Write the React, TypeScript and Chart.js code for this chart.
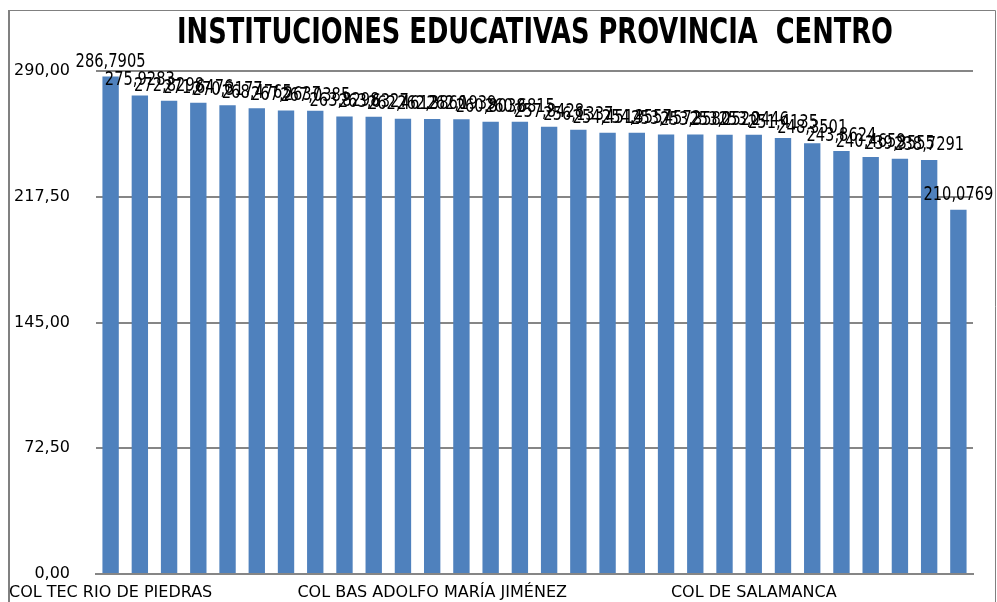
import React, { useEffect, useRef } from "react";
import { Chart, registerables } from "chart.js";

Chart.register(...registerables);

const chartTitle = "INSTITUCIONES EDUCATIVAS PROVINCIA  CENTRO";

const categories = [
  "COL TEC RIO DE PIEDRAS", "IE 02", "IE 03", "IE 04", "IE 05", "IE 06", "IE 07", "IE 08", "IE 09", "IE 10",
  "IE 11", "COL BAS ADOLFO MARÍA JIMÉNEZ", "IE 13", "IE 14", "IE 15", "IE 16", "IE 17", "IE 18", "IE 19", "IE 20",
  "IE 21", "IE 22", "COL DE SALAMANCA", "IE 24", "IE 25", "IE 26", "IE 27", "IE 28", "IE 29", "IE 30",
];

const values = [
  286.7905, 275.9283, 272.8298, 271.6476, 270.3177, 268.4765, 267.2637, 267.0385, 263.8298, 263.6327,
  262.4612, 262.386, 262.1939, 260.8038, 260.6815, 257.8428, 256.1337, 254.4514, 254.3557, 253.4572,
  253.358, 253.252, 253.2446, 251.4135, 248.3501, 243.8624, 240.4659, 239.3555, 238.7291, 210.0769,
];

const yTickValues = [0, 72.5, 145, 217.5, 290];
const shownTickIndices = [0, 11, 22];

const fmt = (v: number, d: number) => v.toFixed(d).replace(".", ",");

export default function App() {
  const ref = useRef<HTMLCanvasElement>(null);

  useEffect(() => {
    const canvas = ref.current!;
    const W = 997;
    const H = 602;

    const framePlugin = {
      id: "frame",
      beforeDraw(chart: any) {
        const ctx = chart.ctx;
        ctx.save();
        ctx.fillStyle = "#ffffff";
        ctx.fillRect(0, 0, W, H);
        ctx.strokeStyle = "#808080";
        ctx.lineWidth = 2;
        ctx.beginPath();
        ctx.moveTo(9, 10);
        ctx.lineTo(9, H);
        ctx.stroke();
        ctx.lineWidth = 1;
        ctx.beginPath();
        ctx.moveTo(8, 10.5);
        ctx.lineTo(995.5, 10.5);
        ctx.lineTo(995.5, H);
        ctx.stroke();
        ctx.fillStyle = "#000000";
        ctx.font = "bold 36px 'DejaVu Sans Condensed', 'DejaVu Sans', sans-serif";
        ctx.textAlign = "center";
        ctx.textBaseline = "alphabetic";
        ctx.fillText(chartTitle, 535, 43, 716);
        ctx.restore();
      },
    };

    const labelPlugin = {
      id: "barLabels",
      afterDatasetsDraw(chart: any) {
        const ctx = chart.ctx;
        const meta = chart.getDatasetMeta(0);
        ctx.save();
        ctx.fillStyle = "#000000";
        ctx.font = "20px 'DejaVu Sans Condensed', 'DejaVu Sans', sans-serif";
        ctx.textAlign = "center";
        ctx.textBaseline = "alphabetic";
        meta.data.forEach((bar: any, i: number) => {
          ctx.fillText(fmt(values[i], 4), bar.x, bar.y - 10, 70);
        });
        ctx.restore();
      },
    };

    const chart = new Chart(canvas, {
      type: "bar",
      data: {
        labels: categories,
        datasets: [
          {
            data: values,
            backgroundColor: "#4F81BD",
            borderWidth: 0,
            categoryPercentage: 1,
            barPercentage: 0.56,
          },
        ],
      },
      options: {
        responsive: false,
        maintainAspectRatio: false,
        animation: false,
        devicePixelRatio: 1,
        layout: { padding: { top: 71, right: 24, left: 0, bottom: 0 } },
        plugins: {
          legend: { display: false },
          title: { display: false },
          tooltip: { enabled: false },
        },
        scales: {
          x: {
            grid: { display: false, drawTicks: false },
            border: { display: true, color: "#868686", width: 2 },
            ticks: {
              autoSkip: false,
              maxRotation: 0,
              minRotation: 0,
              padding: 9,
              color: "#000000",
              font: { family: "'DejaVu Sans', sans-serif", size: 16 },
              callback: (_v: any, i: number) => (shownTickIndices.includes(i) ? categories[i] : ""),
            },
            afterFit: (s: any) => {
              s.height = 28;
              s.paddingLeft = 0;
              s.paddingRight = 0;
            },
          },
          y: {
            min: 0,
            max: 290,
            grid: { color: "#868686", lineWidth: 2, drawTicks: false },
            border: { display: false },
            ticks: {
              padding: 26,
              color: "#000000",
              font: { family: "'DejaVu Sans', sans-serif", size: 16 },
              callback: (v: any) => fmt(Number(v), 2),
            },
            afterBuildTicks: (s: any) => {
              s.ticks = yTickValues.map((v) => ({ value: v }));
            },
            afterFit: (s: any) => {
              s.width = 96;
              s.paddingTop = 0;
              s.paddingBottom = 0;
            },
          },
        },
      },
      plugins: [framePlugin, labelPlugin],
    } as any);

    return () => chart.destroy();
  }, []);

  return (
    <div style={{ position: "fixed", left: 0, top: 0, width: 997, height: 602 }}>
      <canvas ref={ref} width={997} height={602} style={{ display: "block" }} />
    </div>
  );
}
